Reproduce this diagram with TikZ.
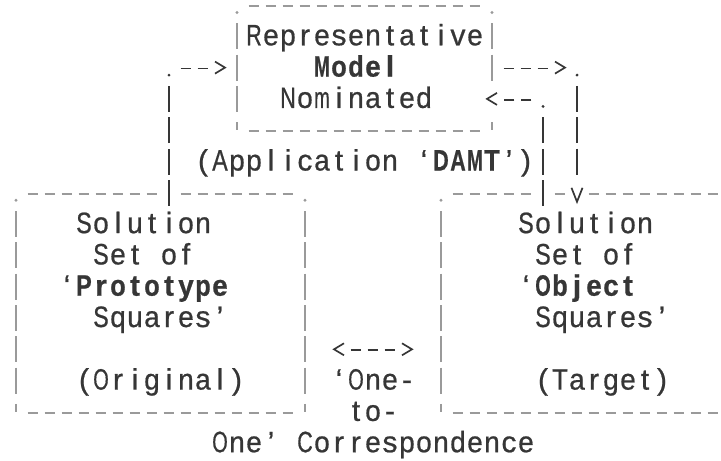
\documentclass[tikz,border=0pt]{standalone}
\usepackage{fontspec}
\usepackage{graphicx}
\newfontfamily\cellfont[FakeStretch=1.02,FakeBold=0.7]{Liberation Sans}
\definecolor{inkgray}{HTML}{363636}
\definecolor{edgegray}{HTML}{9A9A9A}

% fixed character grid: every glyph sits centred in its own cell
\newlength\cellw \setlength\cellw{17pt}
\makeatletter
\newcommand\putcell[1]{\sbox0{#1}\ifdim\wd0>15.5pt
  \makebox[\cellw]{\resizebox{15.5pt}{\height}{#1}}\else\makebox[\cellw]{#1}\fi}
\newcommand\cells[1]{\@tfor\cells@ch:=#1\do{\putcell{\cells@ch}}}
\makeatother
\newcommand\bcells[1]{{\bfseries\cells{#1}}}

% centre of column c and of row r
\newcommand\colx[1]{16+17*(#1)}
\newcommand\rowy[1]{4+31.3*(#1)}

\begin{document}
\begin{tikzpicture}[x=1pt,y=-1pt,
  txt/.style={inner sep=0pt, outer sep=0pt, anchor=base west, text=inkgray,
    font=\cellfont\fontsize{29.5}{31}\selectfont},
  hpat/.style={dash pattern=on 10.7pt off 6.3pt},
  vpat/.style={dash pattern=on 26pt off 5.3pt},
  edge/.style={draw=edgegray, line width=1.7pt},
  link/.style={draw=inkgray, line width=1.7pt},
  chev/.style={draw=inkgray, line width=1.7pt, line join=miter}]
\useasboundingbox (0,0) rectangle (721,461);

% ---------- box outlines: dashes, side bars and corner marks ----------
\newcommand\hrun[4][edge]{\draw[#1, hpat] ({\colx{#2}-5.35},{\rowy{#4}+2}) -- ({\colx{#3}+5.35},{\rowy{#4}+2});}
\newcommand\vrun[4][edge]{\draw[#1, vpat] ({\colx{#2}},{\rowy{#3}-12}) -- ({\colx{#2}},{\rowy{#4}+14});}
\newcommand\topdot[3][edgegray]{\fill[#1] ({\colx{#2}},{\rowy{#3}+8.5}) circle[radius=1.6pt];}
\newcommand\tick[2]{\draw[edge] ({\colx{#1}},{\rowy{#2}-7}) -- ({\colx{#1}},{\rowy{#2}+1});}

% model box
\topdot{13}{0} \topdot{28}{0} \hrun{14}{27}{0}
\vrun{13}{1}{3} \vrun{28}{1}{2}
\tick{13}{4} \tick{28}{4} \hrun{14}{27}{4}

% prototype box
\topdot{0}{6} \topdot{17}{6} \hrun{1}{8}{6} \hrun{10}{16}{6}
\vrun{0}{7}{12} \vrun{17}{7}{12}
\tick{0}{13} \tick{17}{13} \hrun{1}{16}{13}

% object box
\topdot{25}{6} \hrun{26}{30}{6} \hrun{32}{32}{6} \hrun{34}{41}{6}
\vrun{25}{7}{12}
\tick{25}{13} \hrun{26}{41}{13}

% ---------- texts ----------
\node[txt] (rep)  at ({7.5+17*14},{14+31.3*1}) {\cells{Representative}};
\node[txt] (mod)  at ({7.5+17*18},{14+31.3*2}) {\bcells{Model}};
\node[txt] (nom)  at ({7.5+17*16},{14+31.3*3}) {\cells{Nominated}};
\node[txt] (app)  at ({7.5+17*11},{14+31.3*5}) {\cells{(Application~‘}\bcells{DAMT}\cells{’)}};

\node[txt] (solL) at ({7.5+17*4},{14+31.3*7})  {\cells{Solution}};
\node[txt] (setL) at ({7.5+17*5},{14+31.3*8})  {\cells{Set~of}};
\node[txt] (proL) at ({7.5+17*3},{14+31.3*9})  {\cells{‘}\bcells{Prototype}};
\node[txt] (sqL)  at ({7.5+17*5},{14+31.3*10}) {\cells{Squares’}};
\node[txt] (orig) at ({7.5+17*4},{14+31.3*12}) {\cells{(Original)}};

\node[txt] (solR) at ({7.5+17*30},{14+31.3*7})  {\cells{Solution}};
\node[txt] (setR) at ({7.5+17*31},{14+31.3*8})  {\cells{Set~of}};
\node[txt] (objR) at ({7.5+17*30},{14+31.3*9})  {\cells{‘}\bcells{Object}};
\node[txt] (sqR)  at ({7.5+17*31},{14+31.3*10}) {\cells{Squares’}};
\node[txt] (targ) at ({7.5+17*31},{14+31.3*12}) {\cells{(Target)}};

\node[txt] (one1) at ({7.5+17*19},{14+31.3*12}) {\cells{‘One-}};
\node[txt] (to)   at ({7.5+17*20},{14+31.3*13}) {\cells{to-}};
\node[txt] (corr) at ({7.5+17*12},{14+31.3*14}) {\cells{One’~Correspondence}};

% ---------- connectors ----------
% prototype box up to the model box
\coordinate (aFoot) at ({\colx{9}},{\rowy{6}+14});
\coordinate (aTop)  at ({\colx{9}},{\rowy{3}-12});
\coordinate (aBend) at ({\colx{9}},{\rowy{2}+8.5});
\coordinate (aRun0) at ({\colx{10}-5.35},{\rowy{2}+2});
\coordinate (aRun1) at ({\colx{11}+5.35},{\rowy{2}+2});
\coordinate (aTip)  at ({\colx{12}+5},{\rowy{2}+1});
\draw[link, vpat] (aFoot) -- (aTop);
\fill[inkgray] (aBend) circle[radius=1.6pt];
\draw[link, hpat] (aRun0) -- (aRun1);
\draw[chev] ([shift={(-10,-6)}]aTip) -- (aTip) -- ([shift={(-10,6)}]aTip);

% model box across and down to the object box
\coordinate (bRun0) at ({\colx{29}-5.35},{\rowy{2}+2});
\coordinate (bRun1) at ({\colx{31}+5.35},{\rowy{2}+2});
\coordinate (bTip)  at ({\colx{32}+5},{\rowy{2}+1});
\coordinate (bBend) at ({\colx{33}},{\rowy{2}+8.5});
\coordinate (bTop)  at ({\colx{33}},{\rowy{3}-12});
\coordinate (bFoot) at ({\colx{33}},{\rowy{5}+14});
\coordinate (bHead) at ({\colx{33}},{\rowy{6}+10});
\draw[link, hpat] (bRun0) -- (bRun1);
\draw[chev] ([shift={(-10,-6)}]bTip) -- (bTip) -- ([shift={(-10,6)}]bTip);
\fill[inkgray] (bBend) circle[radius=1.6pt];
\draw[link, vpat] (bTop) -- (bFoot);
\draw[chev] ([shift={(-5.5,-14)}]bHead) -- (bHead) -- ([shift={(5.5,-14)}]bHead);

% object box back up to the model box
\coordinate (cFoot) at ({\colx{31}},{\rowy{6}+14});
\coordinate (cTop)  at ({\colx{31}},{\rowy{4}-12});
\coordinate (cBend) at ({\colx{31}},{\rowy{3}+8.5});
\coordinate (cRun0) at ({\colx{30}+5.35},{\rowy{3}+2});
\coordinate (cRun1) at ({\colx{29}-5.35},{\rowy{3}+2});
\coordinate (cTip)  at ({\colx{28}-5},{\rowy{3}+1});
\draw[link, vpat] (cFoot) -- (cTop);
\fill[inkgray] (cBend) circle[radius=1.6pt];
\draw[link, hpat] (cRun0) -- (cRun1);
\draw[chev] ([shift={(10,-6)}]cTip) -- (cTip) -- ([shift={(10,6)}]cTip);

% one-to-one correspondence between the two sets
\coordinate (dLeft)  at ({\colx{19}-5},{\rowy{11}+1});
\coordinate (dRun0)  at ({\colx{20}-5.35},{\rowy{11}+2});
\coordinate (dRun1)  at ({\colx{22}+5.35},{\rowy{11}+2});
\coordinate (dRight) at ({\colx{23}+5},{\rowy{11}+1});
\draw[chev] ([shift={(10,-6)}]dLeft) -- (dLeft) -- ([shift={(10,6)}]dLeft);
\draw[link, hpat] (dRun0) -- (dRun1);
\draw[chev] ([shift={(-10,-6)}]dRight) -- (dRight) -- ([shift={(-10,6)}]dRight);
\end{tikzpicture}
\end{document}
